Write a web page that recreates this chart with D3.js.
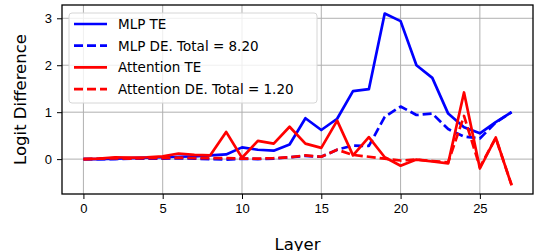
<!DOCTYPE html>
<html>
<head>
<meta charset="utf-8">
<script src="https://cdn.jsdelivr.net/npm/d3@7"></script>
<style>
  body { margin: 0; background: #fff; }
  svg { display: block; font-family: "DejaVu Sans", sans-serif; }
  .grid line { stroke: #b0b0b0; stroke-width: 1; }
  .axis text { font-size: 13px; fill: #000; }
</style>
</head>
<body>
<div data-viz="wrapper"></div>
<script>
// Layers 0..27
const layers = d3.range(0, 28)

const mlpTE = [0, 0, 0.01, 0.02, 0.03, 0.04, 0.05, 0.06, 0.08, 0.1, 0.25, 0.2, 0.18, 0.31,
  0.87, 0.62, 0.86, 1.45, 1.49, 3.1, 2.94, 2.0, 1.73, 0.97, 0.68, 0.55, 0.79, 1.0]
const mlpDE = [0, 0, 0, 0.01, 0.01, 0.01, 0.02, 0.01, 0, -0.01, 0.01, 0, 0.01, 0.04,
  0.07, 0.05, 0.2, 0.29, 0.28, 0.9, 1.12, 0.94, 0.97, 0.64, 0.48, 0.44, 0.78, 1.0]
const attnTE = [0, 0.01, 0.04, 0.03, 0.04, 0.06, 0.12, 0.09, 0.08, 0.58, 0.03, 0.39, 0.33, 0.69,
  0.33, 0.24, 0.82, 0.08, 0.47, 0.04, -0.14, -0.01, -0.05, -0.09, 1.42, -0.2, 0.46, -0.56]
const attnDE = [0, 0.01, 0.02, 0.01, 0.02, 0.02, 0.03, 0.02, 0.02, 0.02, 0.01, 0.01, 0.02, 0.04,
  0.08, 0.05, 0.2, 0.09, 0.05, 0.01, -0.03, -0.01, -0.04, -0.07, 0.92, -0.17, 0.45, -0.55]

const xTicks = [0, 5, 10, 15, 20, 25]
const yTicks = [0, 1, 2, 3]

const series = [
  { label: "MLP TE", values: mlpTE, color: "#0000ff", dash: null },
  { label: "MLP DE. Total = 8.20", values: mlpDE, color: "#0000ff", dash: "9,4" },
  { label: "Attention TE", values: attnTE, color: "#ff0000", dash: null },
  { label: "Attention DE. Total = 1.20", values: attnDE, color: "#ff0000", dash: "9,4" },
]

const dimensions = {
  width: 535,
  height: 251,
  margin: { top: 5, right: 2, bottom: 57, left: 62 },
}
dimensions.boundedWidth = dimensions.width - dimensions.margin.left - dimensions.margin.right
dimensions.boundedHeight = dimensions.height - dimensions.margin.top - dimensions.margin.bottom

// matplotlib-style 5% padding on data limits
const allValues = series.flatMap(s => s.values)
const [yMin, yMax] = d3.extent(allValues)
const yPad = (yMax - yMin) * 0.05
const xPad = (d3.max(layers) - d3.min(layers)) * 0.05

const xScale = d3.scaleLinear()
  .domain([d3.min(layers) - xPad, d3.max(layers) + xPad])
  .range([0, dimensions.boundedWidth])
const yScale = d3.scaleLinear()
  .domain([yMin - yPad, yMax + yPad])
  .range([dimensions.boundedHeight, 0])

const svg = d3.select("[data-viz='wrapper']").append("svg")
  .attr("width", dimensions.width)
  .attr("height", dimensions.height)

const bounds = svg.append("g")
  .attr("transform", `translate(${dimensions.margin.left},${dimensions.margin.top})`)

// Grid
const grid = bounds.append("g").attr("class", "grid")
grid.selectAll(".gx").data(xTicks).join("line")
  .attr("x1", d => xScale(d)).attr("x2", d => xScale(d))
  .attr("y1", 0).attr("y2", dimensions.boundedHeight)
grid.selectAll(".gy").data(yTicks).join("line")
  .attr("y1", d => yScale(d)).attr("y2", d => yScale(d))
  .attr("x1", 0).attr("x2", dimensions.boundedWidth)

// Lines
const lineGenerator = values => d3.line()
  .x((d, i) => xScale(layers[i]))
  .y(d => yScale(d))(values)

bounds.selectAll(".series").data(series).join("path")
  .attr("class", "series")
  .attr("d", d => lineGenerator(d.values))
  .attr("fill", "none")
  .attr("stroke", d => d.color)
  .attr("stroke-width", 2.7)
  .attr("stroke-linejoin", "round")
  .attr("stroke-dasharray", d => d.dash)

// Axes
bounds.append("g")
  .attr("class", "axis")
  .attr("transform", `translate(0,${dimensions.boundedHeight})`)
  .call(d3.axisBottom(xScale).tickValues(xTicks).tickSize(5).tickPadding(5))
bounds.append("g")
  .attr("class", "axis")
  .call(d3.axisLeft(yScale).tickValues(yTicks).tickSize(5).tickPadding(5).tickFormat(d3.format("d")))
svg.selectAll(".axis .domain").remove()
svg.selectAll(".axis .tick line").attr("stroke", "#000").attr("stroke-width", 1)

// Frame
bounds.append("rect")
  .attr("width", dimensions.boundedWidth)
  .attr("height", dimensions.boundedHeight)
  .attr("fill", "none")
  .attr("stroke", "#000")
  .attr("stroke-width", 1.3)

// Axis labels
svg.append("text")
  .attr("x", dimensions.margin.left + dimensions.boundedWidth / 2)
  .attr("y", 250)
  .attr("text-anchor", "middle")
  .attr("font-size", 16.5)
  .text("Layer")
svg.append("text")
  .attr("transform", `translate(26,${dimensions.margin.top + dimensions.boundedHeight / 2}) rotate(-90)`)
  .attr("text-anchor", "middle")
  .attr("font-size", 16.5)
  .text("Logit Difference")

// Legend
const legend = bounds.append("g").attr("transform", "translate(7,8)")
legend.append("rect")
  .attr("width", 248).attr("height", 90)
  .attr("rx", 3)
  .attr("fill", "#fff").attr("fill-opacity", 0.8)
  .attr("stroke", "#d6d6d6").attr("stroke-width", 1)
const items = legend.selectAll(".item").data(series).join("g")
  .attr("transform", (d, i) => `translate(0,${11 + i * 21.7})`)
items.append("line")
  .attr("x1", 5).attr("x2", 38)
  .attr("stroke", d => d.color)
  .attr("stroke-width", 2.7)
  .attr("stroke-dasharray", d => d.dash)
items.append("text")
  .attr("x", 49).attr("dy", "0.36em")
  .attr("font-size", 13.5)
  .text(d => d.label)
</script>
</body>
</html>
